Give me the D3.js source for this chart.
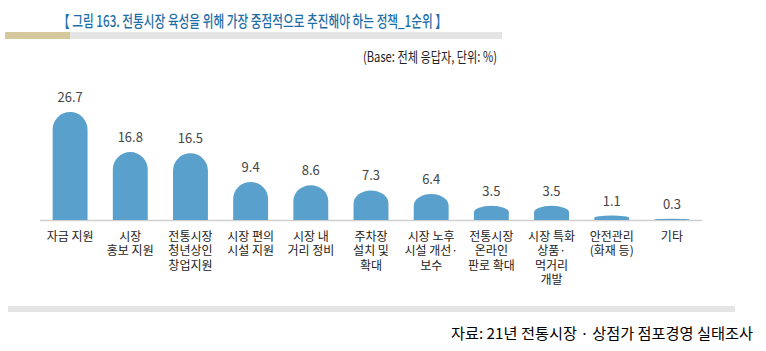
<!DOCTYPE html>
<html>
<head>
<meta charset="utf-8">
<script src="https://cdn.jsdelivr.net/npm/d3@7"></script>
<style>
  body{margin:0;background:#fff;}
  svg{display:block;font-family:"Noto Sans CJK KR","Noto Sans",sans-serif;}
</style>
</head>
<body>
<div id="chart"></div>
<script>
const categories=[
  ["자금 지원"],
  ["시장","홍보 지원"],
  ["전통시장","청년상인","창업지원"],
  ["시장 편의","시설 지원"],
  ["시장 내","거리 정비"],
  ["주차장","설치 및","확대"],
  ["시장 노후","시설 개선·","보수"],
  ["전통시장","온라인","판로 확대"],
  ["시장 특화","상품·","먹거리","개발"],
  ["안전관리","(화재 등)"],
  ["기타"]
];
const values=[26.7,16.8,16.5,9.4,8.6,7.3,6.4,3.5,3.5,1.1,0.3];
const titleText="【 그림 163. 전통시장 육성을 위해 가장 중점적으로 추진해야 하는 정책_1순위 】";
const baseText="(Base: 전체 응답자, 단위: %)";
const sourceText="자료: 21년 전통시장 · 상점가 점포경영 실태조사";

const W=766,H=351;
const svg=d3.select("#chart").append("svg").attr("width",W).attr("height",H);

// title + decorative rule under it (source font is a condensed face)
svg.append("text")
  .attr("x",58).attr("y",27)
  .attr("font-size",16).attr("font-weight",500)
  .attr("fill","#1d6ea8")
  .attr("textLength",389).attr("lengthAdjust","spacingAndGlyphs")
  .text(titleText);
svg.append("rect").attr("x",5).attr("y",32).attr("width",497).attr("height",7).attr("fill","#e4e4e4");
svg.append("rect").attr("x",5).attr("y",32).attr("width",65).attr("height",7).attr("fill","#d6c89d");

svg.append("text")
  .attr("x",363).attr("y",62)
  .attr("font-size",14)
  .attr("fill","#222")
  .attr("textLength",134).attr("lengthAdjust","spacingAndGlyphs")
  .text(baseText);

const base=220;
const x=d3.scaleBand().domain(d3.range(values.length)).range([40,702]).paddingInner(0.42).paddingOuter(0.21);
const y=d3.scaleLinear().domain([0,30]).range([base,base-121.3]);

svg.append("line")
  .attr("x1",40).attr("x2",702)
  .attr("y1",base+0.5).attr("y2",base+0.5)
  .attr("stroke","#d0d0d0").attr("stroke-width",1.5);

// flat bottom, rounded (elliptical) top — flatter for short bars
const barPath=(d,i)=>{
  const x0=x(i),x1=x0+x.bandwidth(),rx=x.bandwidth()/2;
  const top=y(d),h=base-top;
  const ry=Math.min(rx,h*0.45);
  return `M${x0},${base}L${x0},${top+ry}A${rx},${ry} 0 0 1 ${x1},${top+ry}L${x1},${base}Z`;
};

svg.selectAll(".bar").data(values).join("path")
  .attr("class","bar")
  .attr("d",barPath)
  .attr("fill","#5aa0cc");

svg.selectAll(".val").data(values).join("text")
  .attr("class","val")
  .attr("x",(d,i)=>x(i)+x.bandwidth()/2)
  .attr("y",d=>y(d)-10)
  .attr("text-anchor","middle")
  .attr("font-size",13)
  .attr("fill","#444")
  .text(d=>d.toFixed(1));

const lab=svg.selectAll(".cat").data(categories).join("text")
  .attr("class","cat")
  .attr("text-anchor","middle")
  .attr("font-size",12)
  .attr("fill","#222");
lab.selectAll("tspan").data((d,i)=>d.map(t=>({t,i}))).join("tspan")
  .attr("x",d=>x(d.i)+x.bandwidth()/2)
  .attr("y",(d,j)=>base+21+j*14.4)
  .text(d=>d.t);

svg.append("rect").attr("x",8).attr("y",306).attr("width",727).attr("height",6).attr("fill","#e4e4e4");

svg.append("text")
  .attr("x",451).attr("y",339)
  .attr("font-size",15)
  .attr("fill","#000")
  .attr("textLength",302).attr("lengthAdjust","spacingAndGlyphs")
  .text(sourceText);
</script>
</body>
</html>
